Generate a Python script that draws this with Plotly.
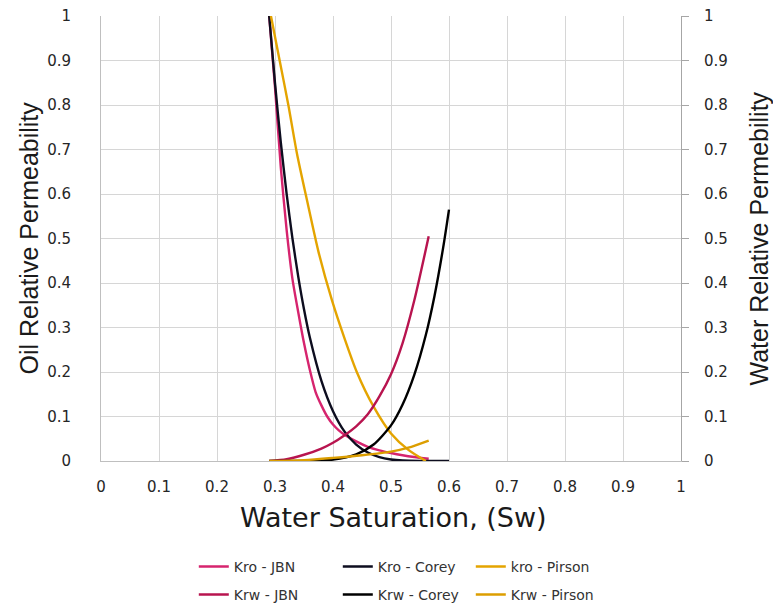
import plotly.graph_objects as go

# ---- data ----
sw_kro_jbn = [0.29, 0.30, 0.31, 0.32, 0.33, 0.34, 0.35, 0.36, 0.37, 0.38, 0.39, 0.40, 0.41, 0.42, 0.44, 0.46, 0.48, 0.50, 0.52, 0.54, 0.565]
kro_jbn = [1.0, 0.84, 0.66, 0.52, 0.41, 0.335, 0.265, 0.205, 0.155, 0.125, 0.100, 0.082, 0.069, 0.059, 0.044, 0.032, 0.024, 0.018, 0.013, 0.009, 0.005]

sw_kro_corey = [0.29, 0.30, 0.31, 0.32, 0.33, 0.34, 0.35, 0.36, 0.38, 0.40, 0.42, 0.44, 0.46, 0.48, 0.50, 0.52, 0.55, 0.58, 0.60]
kro_corey = [1.0, 0.849, 0.716, 0.601, 0.501, 0.415, 0.341, 0.278, 0.180, 0.112, 0.066, 0.037, 0.019, 0.0087, 0.0035, 0.0011, 0.0001, 0.0, 0.0]

sw_kro_pirson = [0.293, 0.308, 0.323, 0.338, 0.355, 0.375, 0.398, 0.42, 0.441, 0.47, 0.50, 0.53, 0.56]
kro_pirson = [1.0, 0.9, 0.8, 0.69, 0.587, 0.47, 0.362, 0.275, 0.2, 0.122, 0.062, 0.025, 0.0]

sw_krw_jbn = [0.29, 0.32, 0.35, 0.38, 0.40, 0.42, 0.44, 0.46, 0.48, 0.50, 0.52, 0.54, 0.565]
krw_jbn = [0.0, 0.004, 0.014, 0.028, 0.041, 0.058, 0.078, 0.105, 0.145, 0.195, 0.265, 0.36, 0.505]

sw_krw_corey = [0.29, 0.33, 0.36, 0.40, 0.44, 0.47, 0.50, 0.52, 0.54, 0.56, 0.575, 0.59, 0.60]
krw_corey = [0.0, 0.0, 0.0003, 0.003, 0.015, 0.037, 0.080, 0.127, 0.193, 0.283, 0.371, 0.48, 0.565]

sw_krw_pirson = [0.29, 0.35, 0.40, 0.45, 0.50, 0.53, 0.565]
krw_pirson = [0.0, 0.002, 0.007, 0.013, 0.021, 0.030, 0.046]

tick_vals = [0, 0.1, 0.2, 0.3, 0.4, 0.5, 0.6, 0.7, 0.8, 0.9, 1]
tick_text = ["0", "0.1", "0.2", "0.3", "0.4", "0.5", "0.6", "0.7", "0.8", "0.9", "1"]

# name, x, y, colour, axis, legend, legend entry width
series = [
    ("Kro - JBN", sw_kro_jbn, kro_jbn, "#D6246E", "y", "legend", 99),
    ("Kro - Corey", sw_kro_corey, kro_corey, "#0d0d1f", "y", "legend", 88),
    ("kro - Pirson", sw_kro_pirson, kro_pirson, "#E4A400", "y", "legend", 95),
    ("Krw - JBN", sw_krw_jbn, krw_jbn, "#B8144F", "y2", "legend2", 99),
    ("Krw - Corey", sw_krw_corey, krw_corey, "#000000", "y2", "legend2", 88),
    ("Krw - Pirson", sw_krw_pirson, krw_pirson, "#DC9E00", "y2", "legend2", 95),
]

fig = go.Figure()
for name, xs, ys, col, yax, leg, lw in series:
    fig.add_trace(go.Scatter(
        x=xs, y=ys, mode="lines", name=name, yaxis=yax, legend=leg,
        legendwidth=lw,
        line=dict(color=col, width=2.4, shape="spline", smoothing=0.7),
    ))

tickfont = dict(family="DejaVu Sans", size=15, color="#262626")
grid = "#d6d6d6"
legfont = dict(family="DejaVu Sans", size=14, color="#333333")

fig.update_layout(
    width=773, height=605,
    margin=dict(l=101, r=92, t=16, b=144, autoexpand=False),
    paper_bgcolor="white", plot_bgcolor="white",
    xaxis=dict(range=[0, 1], tickvals=tick_vals, ticktext=tick_text,
               showgrid=True, gridcolor=grid, gridwidth=1,
               showline=True, linecolor="#bfbfbf", linewidth=1,
               zeroline=False, ticks="", tickfont=tickfont,
               ticklabelstandoff=12, automargin=False),
    yaxis=dict(range=[0, 1], tickvals=tick_vals, ticktext=tick_text,
               showgrid=True, gridcolor=grid, gridwidth=1,
               showline=True, linecolor="#bfbfbf", linewidth=1,
               zeroline=False, ticks="", tickfont=tickfont,
               ticklabelstandoff=26, automargin=False),
    yaxis2=dict(range=[0, 1], tickvals=tick_vals, ticktext=tick_text,
                overlaying="y", side="right", showgrid=False,
                showline=True, linecolor="#a6a6a6", linewidth=1,
                zeroline=False, ticks="outside", ticklen=7, tickcolor="#a6a6a6",
                tickfont=tickfont, ticklabelstandoff=12, automargin=False),
    legend=dict(orientation="h", x=0.160, xanchor="left", y=-0.238, yanchor="middle",
                font=legfont, bgcolor="rgba(0,0,0,0)", itemclick=False),
    legend2=dict(orientation="h", x=0.160, xanchor="left", y=-0.301, yanchor="middle",
                 font=legfont, bgcolor="rgba(0,0,0,0)", itemclick=False),
    annotations=[
        dict(text="Water Saturation, (Sw)", xref="paper", yref="paper",
             x=(393 - 101) / 580, y=-0.128, xanchor="center", yanchor="middle", showarrow=False,
             font=dict(family="DejaVu Sans", size=27, color="#1a1a1a")),
        dict(text="Oil Relative Permeability", xref="paper", yref="paper",
             x=(28 - 101) / 580, y=0.5, xanchor="center", yanchor="middle",
             showarrow=False, textangle=-90,
             font=dict(family="Liberation Sans Narrow, Liberation Sans", size=25, color="#1a1a1a")),
        dict(text="Water Relative Permebility", xref="paper", yref="paper",
             x=(758 - 101) / 580, y=0.5, xanchor="center", yanchor="middle",
             showarrow=False, textangle=-90,
             font=dict(family="Liberation Sans Narrow, Liberation Sans", size=25, color="#1a1a1a")),
    ],
    showlegend=True,
)

fig.write_html(
    "out.html",
    config={"displayModeBar": False},
    post_script="document.body.style.margin='0';document.body.style.overflow='hidden';",
)
